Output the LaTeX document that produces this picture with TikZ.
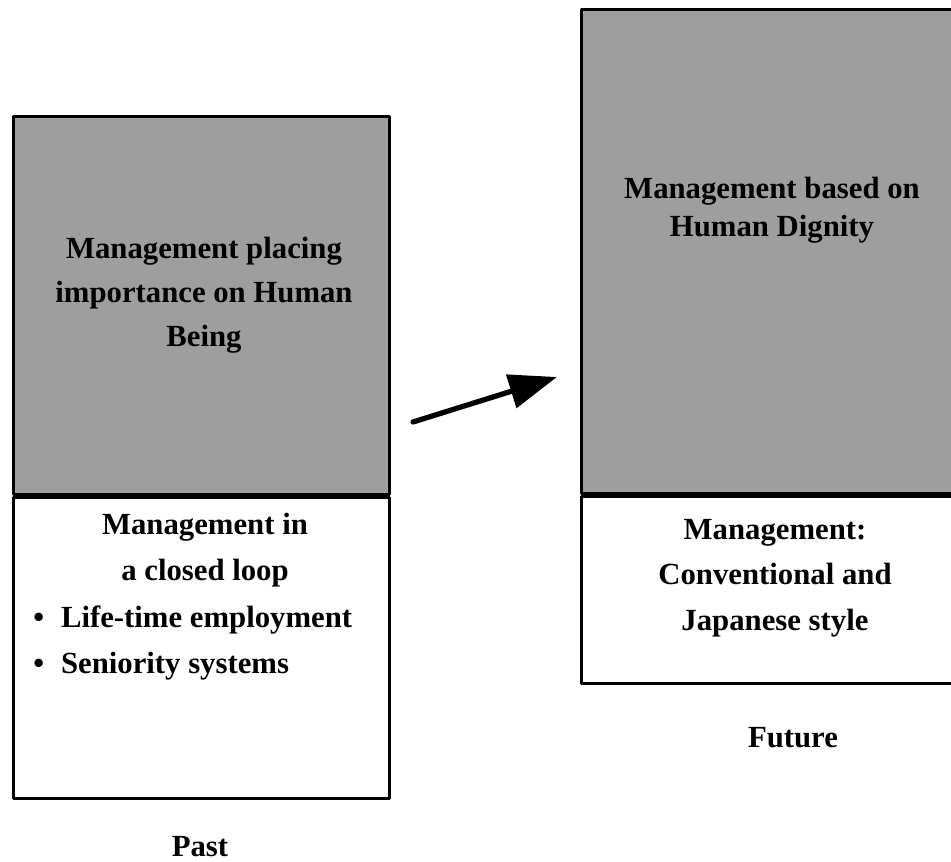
\documentclass[tikz,border=0pt]{standalone}
\usepackage{fontspec}
\setmainfont{Liberation Serif}
\usetikzlibrary{arrows.meta}
\begin{document}
\begin{tikzpicture}[x=0.02cm,y=-0.02cm,line join=round,
	shaded/.style={draw,line width=1.7pt,fill=black!38,inner sep=0pt},
	plain/.style={draw,line width=1.7pt,fill=white,inner sep=0pt},
	txt/.style={font=\bfseries\fontsize{17.5}{25}\selectfont,align=center,inner sep=0pt}]
	\useasboundingbox (0,0) rectangle (951,862);
	% past
	\node[shaded,anchor=north west,minimum width=376*0.02cm,minimum height=378*0.02cm] (pastTop) at (12,115) {};
	\node[plain,anchor=north west,minimum width=376*0.02cm,minimum height=301*0.02cm] (pastBot) at (pastTop.south west) {};
	\node[txt] (pastHead) at (204,295) {Management placing\\importance on Human\\Being};
	\node[txt,font=\bfseries\fontsize{17.5}{26.5}\selectfont] (pastSub) at (205,550) {Management in\\a closed loop};
	\node[txt,align=left,anchor=west,font=\bfseries\fontsize{17.5}{26.5}\selectfont] (pastList) at (33,643) {\textbullet\hspace{0.55em}Life-time employment\\\textbullet\hspace{0.55em}Seniority systems};
	\node[txt] (past) at (200,847) {Past};
	% future
	\node[shaded,anchor=north west,minimum width=380*0.02cm,minimum height=484*0.02cm] (futTop) at (580,8) {};
	\node[plain,anchor=north west,minimum width=380*0.02cm,minimum height=187*0.02cm] (futBot) at (futTop.south west) {};
	\node[txt,font=\bfseries\fontsize{17.5}{21.5}\selectfont] (futHead) at (772,210) {Management based on\\Human Dignity};
	\node[txt,font=\bfseries\fontsize{17.5}{26}\selectfont] (futSub) at (775,578) {Management:\\Conventional and\\Japanese style};
	\node[txt] (future) at (793,738) {Future};
	% arrow
	\coordinate (arrTail) at (413,422);
	\coordinate (arrTip) at (557,377);
	\draw[line width=3pt,line cap=round,-{Triangle[length=0.96cm,width=0.68cm]}] (arrTail) -- (arrTip);
\end{tikzpicture}
\end{document}
